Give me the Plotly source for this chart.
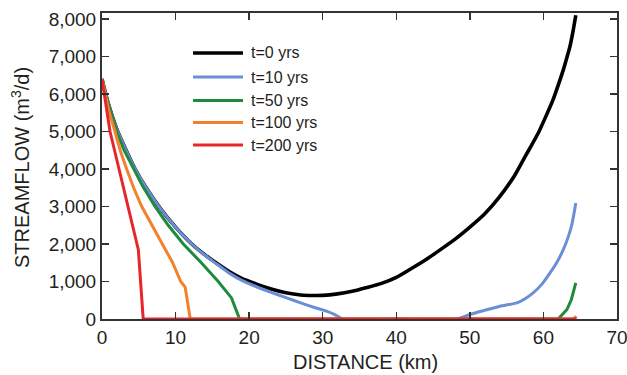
import plotly.graph_objects as go

# ---------------- data ----------------
series_names = ["t=0 yrs", "t=10 yrs", "t=50 yrs", "t=100 yrs", "t=200 yrs"]

t0_x = [0, 0.5, 1, 2, 3, 4.5, 6, 8, 10, 12.2, 14, 15.5, 17.4, 19, 21, 23, 25, 27, 28.7, 30, 32,
        34, 36, 38, 40, 42, 44, 46, 48, 50, 52, 54, 56, 57, 58, 59.3, 60.3, 61.3, 62, 62.7,
        63.2, 63.6, 64, 64.4]
t0_y = [6400, 6000, 5650, 5070, 4620, 4000, 3500, 2930, 2450, 2000, 1710, 1500, 1250, 1080, 930,
        800, 700, 640, 626, 630, 670, 740, 840, 950, 1110, 1340, 1580, 1850, 2130, 2450, 2800,
        3250, 3800, 4150, 4500, 4960, 5390, 5844, 6230, 6643, 6980, 7263, 7650, 8100]

t10_x = [0, 0.5, 1, 2, 3, 4.5, 6, 8, 10, 12.2, 14, 15.5, 17.4, 19, 21, 23, 25, 27, 29, 30.5,
         31.5, 32.8, 40, 48.2, 50, 52, 54.1, 56.4, 57.5, 58.6, 59.8, 60.9, 61.8, 62.7, 63.3,
         63.8, 64.1, 64.4]
t10_y = [6400, 6000, 5650, 5070, 4620, 4000, 3500, 2930, 2450, 2000, 1700, 1480, 1210, 1030, 860,
         710, 570, 430, 300, 210, 130, 0, 0, 0, 120, 230, 341, 431, 540, 697, 930, 1230, 1500,
         1850, 2150, 2470, 2750, 3093]

t50_x = [0, 0.45, 1, 2, 3, 4.26, 5.5, 7.2, 9, 11.05, 13.5, 15.8, 17.6, 18.7, 30, 50, 62.0, 63.2,
         63.8, 64.4]
t50_y = [6400, 6000, 5640, 5000, 4500, 4000, 3550, 3000, 2500, 2000, 1500, 1000, 563, 0, 0, 0,
         0, 253, 520, 964]

t100_x = [0, 0.5, 1, 1.77, 2.5, 3.35, 4.3, 5.4, 6.8, 8.3, 9.6, 10.7, 11.3, 12.0, 30, 50, 64.0,
          64.5]
t100_y = [6400, 5900, 5500, 5000, 4480, 4000, 3500, 3000, 2500, 2000, 1500, 1000, 850, 0, 0, 0,
          0, 70]

t200_x = [0, 0.64, 1.09, 1.7, 2.31, 2.9, 3.49, 4.1, 4.7, 4.94, 5.6, 30, 64.5]
t200_y = [6400, 5580, 5000, 4500, 4000, 3500, 3000, 2500, 2000, 1850, 0, 0, 0]

series_x = [t0_x, t10_x, t50_x, t100_x, t200_x]
series_y = [t0_y, t10_y, t50_y, t100_y, t200_y]
colors = ["#000000", "#6a8fd6", "#1f8a3c", "#f2802c", "#e5262b"]
widths = [3.6, 3.0, 3.0, 3.0, 3.0]
shapes = ["spline", "spline", "linear", "linear", "linear"]

x_ticks = [0, 10, 20, 30, 40, 50, 60, 70]
y_ticks = [0, 1000, 2000, 3000, 4000, 5000, 6000, 7000, 8000]

# ---------------- figure ----------------
FONT = "Liberation Sans, Arial, Helvetica, sans-serif"
TXT = "#231f20"

fig = go.Figure()
for name, xs, ys, c, w, s in zip(series_names, series_x, series_y, colors, widths, shapes):
    line = dict(color=c, width=w, shape=s)
    if s == "spline":
        line["smoothing"] = 0.6
    fig.add_trace(go.Scatter(x=xs, y=ys, mode="lines", name=name,
                             line=line, showlegend=False))

# plot area geometry (pixels) used for legend / titles placement
W, H = 627, 375
L, R, T, B = 102, 10, 13, 56
pw, ph = W - L - R, H - T - B

def px(x):
    return (x - L) / pw

def py(y):
    return (H - B - y) / ph

# manual legend (long line samples like the reference)
rows = [53, 77, 100.5, 122.5, 145]
for name, c, w, ry in zip(series_names, colors, widths, rows):
    fig.add_shape(type="line", xref="paper", yref="paper",
                  x0=px(193), x1=px(243), y0=py(ry), y1=py(ry),
                  line=dict(color=c, width=w))
    fig.add_annotation(xref="paper", yref="paper", x=px(249), y=py(ry),
                       text=name, showarrow=False, xanchor="left", yanchor="middle",
                       font=dict(family=FONT, size=16, color=TXT))

# axis titles
fig.add_annotation(xref="paper", yref="paper", x=px(365), y=py(362),
                   text="DISTANCE (km)", showarrow=False, xanchor="center",
                   yanchor="middle", font=dict(family=FONT, size=20, color=TXT))
fig.add_annotation(xref="paper", yref="paper", x=px(20), y=py(168),
                   text="STREAMFLOW (m<sup>3</sup>/d)", showarrow=False, textangle=-90,
                   xanchor="center", yanchor="middle",
                   font=dict(family=FONT, size=20, color=TXT))

axis_common = dict(showline=True, linecolor="#333333", linewidth=2, mirror="ticks",
                   ticks="inside", ticklen=7, tickwidth=1.5, tickcolor="#333333",
                   showgrid=False, zeroline=False, automargin=False,
                   ticklabeloverflow="allow",
                   tickfont=dict(family=FONT, size=19, color=TXT))

fig.update_xaxes(range=[0, 70], tickmode="array", tickvals=x_ticks,
                 ticktext=[str(v) for v in x_ticks], **axis_common)
fig.update_yaxes(range=[0, 8160], tickmode="array", tickvals=y_ticks,
                 ticktext=[f"{v:,}" for v in y_ticks], **axis_common)

fig.update_layout(width=W, height=H, margin=dict(l=L, r=R, t=T, b=B),
                  plot_bgcolor="white", paper_bgcolor="white", showlegend=False)

fig.write_html("out.html", config={"displayModeBar": False, "staticPlot": True})

# remove the browser's default body margin so the figure sits at the page origin
with open("out.html", "r", encoding="utf-8") as f:
    html = f.read()
html = html.replace("<head>", "<head><style>html,body{margin:0;padding:0;overflow:hidden;}</style>", 1)
with open("out.html", "w", encoding="utf-8") as f:
    f.write(html)
